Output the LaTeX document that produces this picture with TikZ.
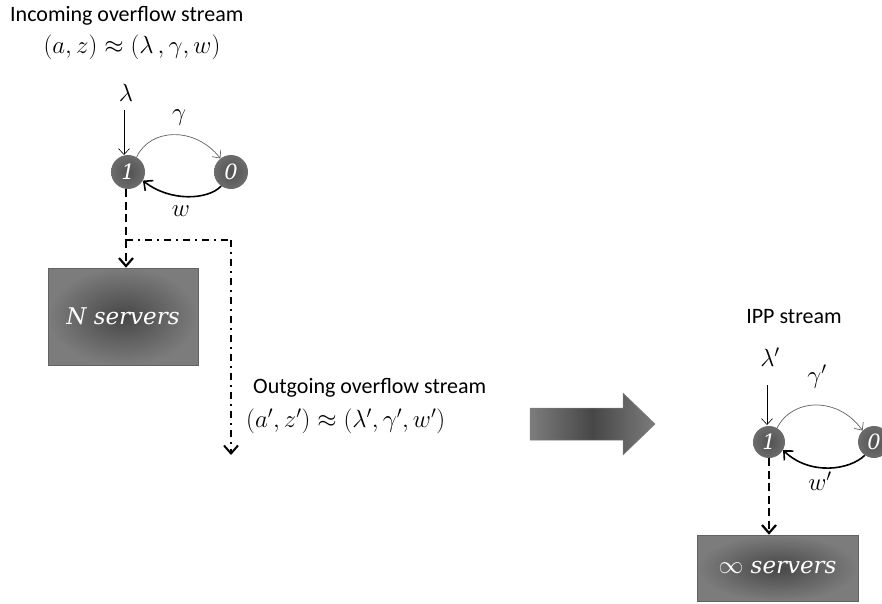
\documentclass[tikz,border=0pt]{standalone}
\usepackage{fontspec}
\newfontfamily\labelfont{Carlito}
\newfontfamily\boxfont{DejaVu Serif}
\usetikzlibrary{arrows.meta}
\definecolor{boxdark}{HTML}{474747}
\definecolor{boxlight}{HTML}{7C7C7C}
\definecolor{balldark}{HTML}{525252}
\definecolor{balllight}{HTML}{6C6C6C}
\definecolor{arcgray}{HTML}{606060}
\tikzset{
  caption/.style={font=\labelfont\fontsize{22}{26}\selectfont, inner sep=0pt},
  formula/.style={font=\fontsize{24}{28}\selectfont, inner sep=0pt},
  state/.style={circle, minimum size=34pt, inner sep=0pt, shading=radial,
    inner color=balldark, outer color=balllight, text=white,
    font=\boxfont\fontsize{21}{21}\selectfont\itshape},
  serverbox/.style={rectangle, inner sep=0pt, shading=radial, inner color=boxdark,
    outer color=boxlight, draw=boxlight!80!black, line width=0.6pt, text=white,
    font=\boxfont\fontsize{23}{23}\selectfont\itshape},
  thinarrow/.style={line width=0.6pt, -{Straight Barb[length=6pt,width=11pt]}},
  ratearc/.style={line width=0.7pt, draw=arcgray, -{Straight Barb[length=6pt,width=11pt]}},
  returnarc/.style={line width=1.6pt, -{Straight Barb[length=7pt,width=13pt]}},
  dashflow/.style={line width=2.2pt, dash pattern=on 8pt off 4.5pt},
  dotflow/.style={line width=2pt, dash pattern=on 7pt off 5pt on 2pt off 5pt},
  flowtip/.style={-{Straight Barb[length=8pt,width=14pt]}},
}
\begin{document}
\begin{tikzpicture}[x=1pt,y=-1pt]
\useasboundingbox (0,0) rectangle (882,603);

% ---- incoming overflow stream ----
\node[caption, anchor=west] (intitle) at (10,16) {Incoming overflow stream};
\node[formula] (inform) at (132,47) {$(a,z)\approx(\lambda\,,\gamma,w)$};
\node[formula] (lam) at (126,93) {$\lambda$};
\node[formula] (gam) at (179,118) {$\gamma$};
\node[state] (n1) at (128,172) {1};
\node[state] (n0) at (231,172) {0};
\node[formula] (wlab) at (181,211) {$w$};
\coordinate (lamtail) at (124,110);
\draw[thinarrow] (lamtail) -- (124,155);
\draw[ratearc] (n1.60) .. controls (150,128) and (195,126) .. (n0.128);
\draw[returnarc] (n0.235) .. controls (208,200) and (170,202) .. (n1.-30);

\node[serverbox, minimum width=150pt, minimum height=97pt] (nbox) at (123,316.5) {N servers};
\coordinate (split) at (126,240);
\coordinate (turn) at (231,240);
\coordinate (outend) at (231,455);
\draw[dashflow] (n1.south -| split) -- (split);
\draw[dashflow, flowtip] (split) -- (nbox.north -| split);
\draw[dotflow] (split) -- (turn);
\draw[dotflow, flowtip] (turn) -- (outend);

\node[caption, anchor=west] (outtitle) at (253,388) {Outgoing overflow stream};
\node[formula, anchor=west] (outform) at (246,421) {$(a',z')\approx(\lambda',\gamma',w')$};

% ---- transition arrow ----
\shade[left color=boxlight, right color=boxlight, middle color=boxdark, draw=boxlight, line width=0.5pt]
  (530,408) -- (623,408) -- (623,393) -- (655,424) -- (623,455) -- (623,440) -- (530,440) -- cycle;

% ---- IPP stream ----
\node[caption] (ipptitle) at (794,317) {IPP stream};
\node[formula] (lamp) at (770,357) {$\lambda'$};
\node[formula] (gamp) at (817,377) {$\gamma'$};
\node[state, minimum size=32pt] (m1) at (769,442) {1};
\node[state, minimum size=32pt] (m0) at (874,442) {0};
\node[formula] (wplab) at (820,481) {$w'$};
\coordinate (lamptail) at (767,385);
\draw[thinarrow] (lamptail) -- (767,425);
\draw[ratearc] (m1.60) .. controls (792,398) and (838,396) .. (m0.135);
\draw[returnarc] (m0.235) .. controls (850,470) and (810,476) .. (m1.-30);

\node[serverbox, minimum width=161pt, minimum height=66pt] (ibox) at (777.5,568) {$\infty$ servers};
\draw[dashflow, flowtip] (m1.south) -- (ibox.north -| m1.south);
\end{tikzpicture}
\end{document}
